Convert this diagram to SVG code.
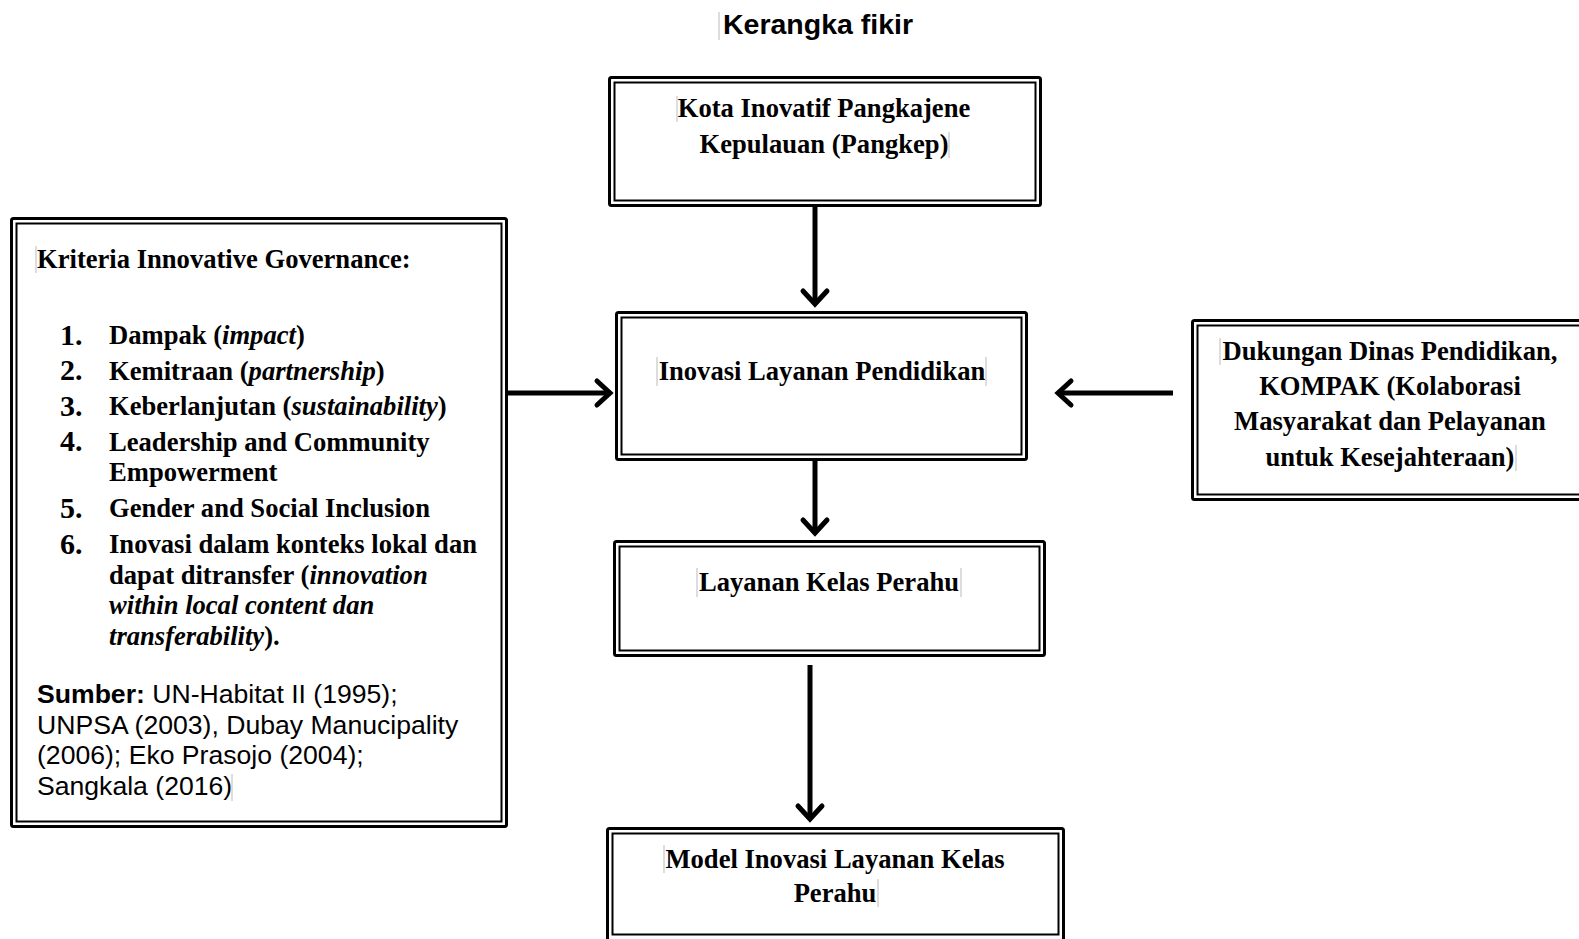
<svg xmlns="http://www.w3.org/2000/svg" width="1579" height="939" viewBox="0 0 1579 939">
<defs>
<style>
.bo{fill:none;stroke:#000;stroke-width:3}
.bi{fill:none;stroke:#000;stroke-width:2}
.tb{font-family:"Liberation Serif","Times New Roman",serif;font-weight:bold;font-size:26.6px;fill:#000}
.num{font-family:"Liberation Serif","Times New Roman",serif;font-weight:bold;font-size:30px;fill:#000}
.ar{font-family:"Liberation Sans",Arial,sans-serif;font-size:26.6px;fill:#000}
.title{font-family:"Liberation Sans",Arial,sans-serif;font-weight:bold;font-size:28.5px;fill:#000}
.cur{stroke:#bbb;stroke-width:1}
.conn{stroke:#000;stroke-width:5;fill:none}
</style>
<marker id="chev" markerUnits="userSpaceOnUse" orient="auto" markerWidth="40" markerHeight="40" refX="0" refY="0" viewBox="-20 -20 40 40" overflow="visible">
<path d="M -13 -12 L 0 0 L -13 12" fill="none" stroke="#000" stroke-width="5" stroke-linecap="round" stroke-linejoin="miter"/>
</marker>
</defs>
<rect width="1579" height="939" fill="#fff"/>

<g id="title">
<text class="title" x="818" y="34" text-anchor="middle">Kerangka fikir</text>
<line class="cur" x1="719" y1="12" x2="719" y2="40"/>
</g>

<g id="connectors">
<line class="conn" x1="815" y1="207" x2="815" y2="304" marker-end="url(#chev)"/>
<line class="conn" x1="507" y1="393" x2="610" y2="393" marker-end="url(#chev)"/>
<line class="conn" x1="1173" y1="393" x2="1058" y2="393" marker-end="url(#chev)"/>
<line class="conn" x1="815" y1="461" x2="815" y2="533" marker-end="url(#chev)"/>
<line class="conn" x1="810" y1="665" x2="810" y2="819" marker-end="url(#chev)"/>
</g>

<g id="node-kota">
<rect class="bo" x="609.5" y="77.5" width="431" height="128" rx="2"/>
<rect class="bi" x="614.5" y="82.5" width="421" height="118"/>
<text class="tb" x="824" y="117" text-anchor="middle">Kota Inovatif Pangkajene</text>
<text class="tb" x="824" y="153" text-anchor="middle">Kepulauan (Pangkep)</text>
<line class="cur" x1="677" y1="96" x2="677" y2="122"/>
<line class="cur" x1="949" y1="132" x2="949" y2="158"/>
</g>

<g id="node-kriteria">
<rect class="bo" x="11.5" y="218.5" width="495" height="608" rx="2"/>
<rect class="bi" x="16.5" y="223.5" width="485" height="598"/>
<text class="tb" x="37" y="268">Kriteria Innovative Governance:</text>
<line class="cur" x1="36" y1="246" x2="36" y2="273"/>
<text class="num" x="60" y="345">1.</text>
<text class="num" x="60" y="380">2.</text>
<text class="num" x="60" y="416">3.</text>
<text class="num" x="60" y="451">4.</text>
<text class="num" x="60" y="518">5.</text>
<text class="num" x="60" y="554">6.</text>
<text class="tb" x="109" y="344">Dampak (<tspan font-style="italic">impact</tspan>)</text>
<text class="tb" x="109" y="380">Kemitraan (<tspan font-style="italic">partnership</tspan>)</text>
<text class="tb" x="109" y="415">Keberlanjutan (<tspan font-style="italic">sustainability</tspan>)</text>
<text class="tb" x="109" y="451">Leadership and Community</text>
<text class="tb" x="109" y="481">Empowerment</text>
<text class="tb" x="109" y="517">Gender and Social Inclusion</text>
<text class="tb" x="109" y="553">Inovasi dalam konteks lokal dan</text>
<text class="tb" x="109" y="584">dapat ditransfer (<tspan font-style="italic">innovation</tspan></text>
<text class="tb" x="109" y="614" font-style="italic">within local content dan</text>
<text class="tb" x="109" y="645"><tspan font-style="italic">transferability</tspan>).</text>
<text class="ar" x="37" y="703"><tspan font-weight="bold">Sumber:</tspan> UN-Habitat II (1995);</text>
<text class="ar" x="37" y="734">UNPSA (2003), Dubay Manucipality</text>
<text class="ar" x="37" y="764">(2006); Eko Prasojo (2004);</text>
<text class="ar" x="37" y="795">Sangkala (2016)</text>
<line class="cur" x1="232" y1="774" x2="232" y2="801"/>
</g>

<g id="node-inovasi">
<rect class="bo" x="616.5" y="312.5" width="410" height="147" rx="2"/>
<rect class="bi" x="621.5" y="317.5" width="400" height="137"/>
<text class="tb" x="822" y="380" text-anchor="middle">Inovasi Layanan Pendidikan</text>
<line class="cur" x1="657" y1="357" x2="657" y2="386"/>
<line class="cur" x1="986" y1="357" x2="986" y2="386"/>
</g>

<g id="node-dukungan">
<rect class="bo" x="1192.5" y="320.5" width="400" height="179" rx="2"/>
<rect class="bi" x="1197.5" y="325.5" width="400" height="169"/>
<text class="tb" x="1390" y="360" text-anchor="middle">Dukungan Dinas Pendidikan,</text>
<text class="tb" x="1390" y="395" text-anchor="middle">KOMPAK (Kolaborasi</text>
<text class="tb" x="1390" y="430" text-anchor="middle">Masyarakat dan Pelayanan</text>
<text class="tb" x="1390" y="466" text-anchor="middle">untuk Kesejahteraan)</text>
<line class="cur" x1="1220" y1="338" x2="1220" y2="365"/>
<line class="cur" x1="1516" y1="445" x2="1516" y2="471"/>
</g>

<g id="node-layanan">
<rect class="bo" x="614.5" y="541.5" width="430" height="114" rx="2"/>
<rect class="bi" x="619.5" y="546.5" width="420" height="104"/>
<text class="tb" x="829" y="591" text-anchor="middle">Layanan Kelas Perahu</text>
<line class="cur" x1="697" y1="568" x2="697" y2="597"/>
<line class="cur" x1="961" y1="568" x2="961" y2="597"/>
</g>

<g id="node-model">
<rect class="bo" x="607.5" y="828.5" width="456" height="112" rx="2"/>
<rect class="bi" x="612.5" y="833.5" width="446" height="101"/>
<text class="tb" x="835" y="868" text-anchor="middle">Model Inovasi Layanan Kelas</text>
<text class="tb" x="835" y="902" text-anchor="middle">Perahu</text>
<line class="cur" x1="664" y1="845" x2="664" y2="873"/>
<line class="cur" x1="878" y1="879" x2="878" y2="907"/>
</g>
</svg>
